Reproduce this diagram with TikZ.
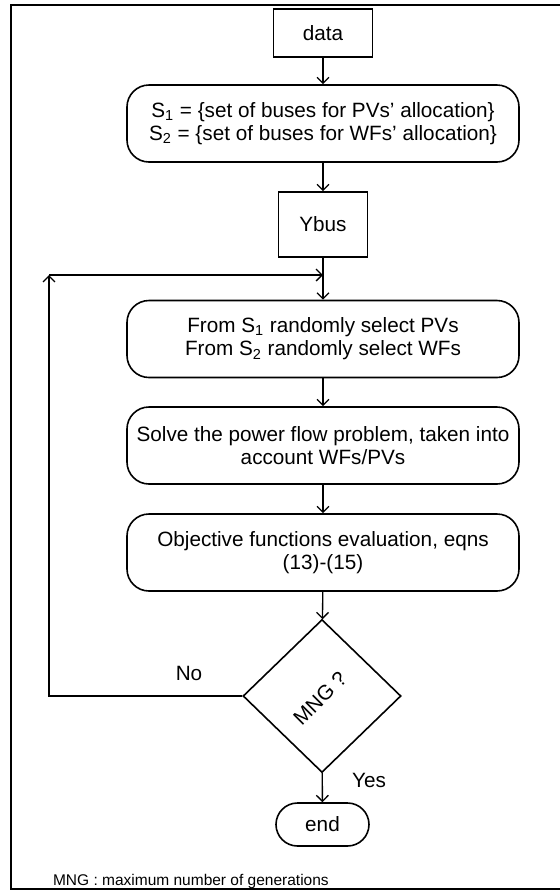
\documentclass[tikz,border=0pt]{standalone}
\usepackage{fontspec}
\setmainfont{Liberation Sans}
\usetikzlibrary{shapes.geometric,arrows.meta}

\tikzset{
  box/.style={draw,line width=0.8pt,inner sep=0pt},
  roundbox/.style={box,rounded corners=11pt,minimum width=196pt,minimum height=38.5pt,align=center},
  arr/.style={line width=0.65pt,-{Straight Barb[length=3pt,width=6pt]}}
}

\begin{document}
\begin{tikzpicture}[x=0.5pt,y=-0.5pt,font=\fontsize{10.35}{11.6}\selectfont]
\useasboundingbox (0,0) rectangle (560,891);

% frame
\draw[line width=1pt] (561,5) -- (11,5) -- (11,889) -- (561,889);

\node[box,minimum width=49.5pt,minimum height=24pt] (data) at (323,33) {data};
\node[roundbox] (sets) at (323,123.5) {S\textsubscript{1} = \{set of buses for PVs' allocation\}\\S\textsubscript{2} = \{set of buses for WFs' allocation\}};
\node[box,minimum width=44.5pt,minimum height=32.5pt] (ybus) at (323,224.5) {Ybus};
\node[roundbox] (select) at (323,339) {From S\textsubscript{1} randomly select PVs\\From S\textsubscript{2} randomly select WFs};
\node[roundbox] (flow) at (323,445.5) {Solve the power flow problem, taken into\\account WFs/PVs};
\node[roundbox] (obj) at (323,552.5) {Objective functions evaluation, eqns\\(13)-(15)};
\node[box,diamond,minimum width=79pt,minimum height=76.5pt] (mng) at (322,696) {};
\node[rotate=45] (mngtext) at (320,698) {MNG ?};
\node[box,rounded corners=10.75pt,minimum width=46.5pt,minimum height=21.5pt] (end) at (322.5,824.5) {end};

\coordinate (back) at (49,275);
\coordinate (join) at (323,275);

\draw[arr] (data) -- (sets);
\draw[arr] (sets) -- (ybus);
\draw[arr] (ybus) -- (select);
\draw[arr] (select) -- (flow);
\draw[arr] (flow) -- (obj);
\draw[arr] (obj) -- (mng);
\draw[arr] (mng) -- (end);
\draw[arr] (mng.west) -| (back);
\draw[arr] (back) -- (join);

\node (no) at (189,673) {No};
\node (yes) at (369,780) {Yes};
\node[anchor=west,font=\fontsize{7.75}{9}\selectfont] (note) at (46,881) {MNG : maximum number of generations};

\end{tikzpicture}
\end{document}
